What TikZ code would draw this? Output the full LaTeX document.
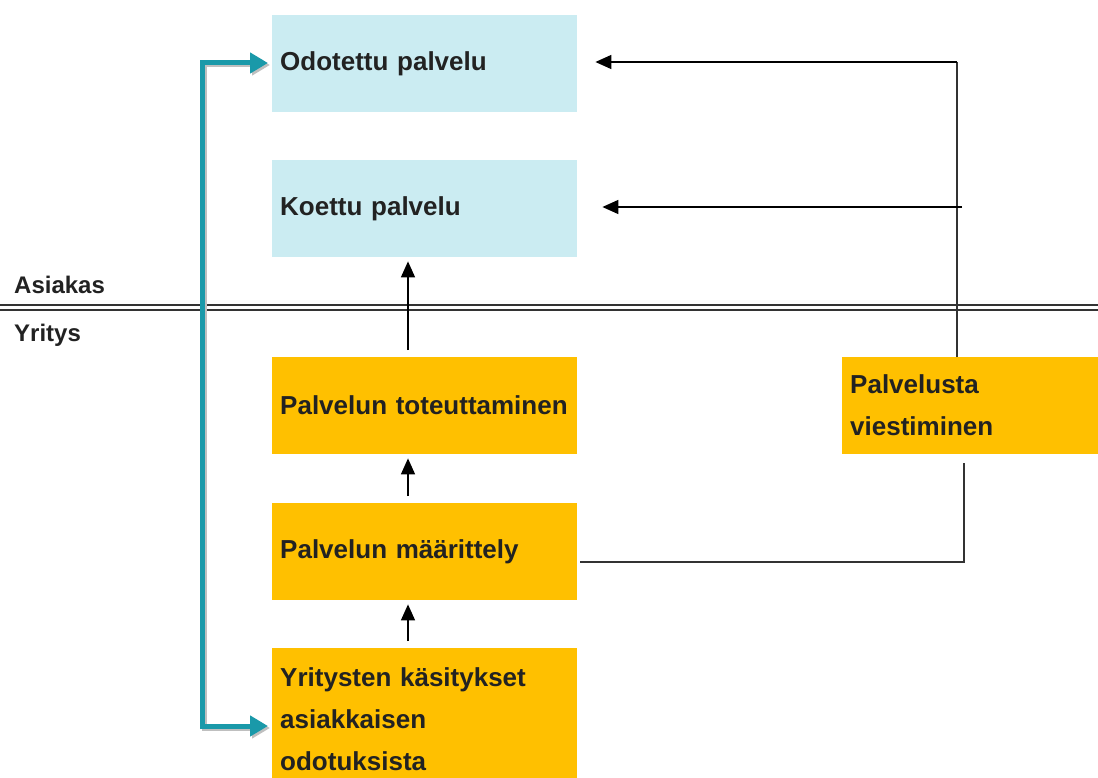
\documentclass[tikz,border=0pt]{standalone}
\usepackage{fontspec}
\setmainfont{Liberation Sans}
\usetikzlibrary{arrows.meta}
\definecolor{custblue}{HTML}{CBECF2}
\definecolor{firmorange}{HTML}{FFC000}
\definecolor{linkteal}{HTML}{1A99A9}
\definecolor{ink}{HTML}{222222}
\begin{document}
\begin{tikzpicture}[x=1pt,y=-1pt,
  box/.style={draw=none, anchor=north west, minimum width=305pt, inner xsep=8pt,
    text width=289pt, align=left, font=\fontsize{26}{42}\selectfont\bfseries,
    text=ink},
  custbox/.style={box, fill=custblue, minimum height=97pt},
  firmbox/.style={box, fill=firmorange, minimum height=97pt},
  flow/.style={draw=black, line width=1.5pt, -{Triangle[length=16pt,width=14pt]}},
  plain/.style={draw=black!80, line width=1.5pt},
  loop/.style={draw=linkteal, line width=5pt},
  lane/.style={font=\fontsize{24}{28}\selectfont\bfseries, text=ink, anchor=west, inner sep=0pt}
]
\useasboundingbox (0,0) rectangle (1098,778);
\clip (0,0) rectangle (1098,778);

% customer side
\node[custbox] (odot) at (272,15) {Odotettu palvelu};
\node[custbox] (koettu) at (272,160) {Koettu palvelu};

% company side
\node[firmbox] (tot) at (272,357) {Palvelun toteuttaminen};
\node[firmbox] (maar) at (272,503) {Palvelun määrittely};
\node[firmbox, minimum height=142pt] (kas) at (272,648) {Yritysten käsitykset\\asiakkaisen\\odotuksista};
\node[box, fill=firmorange, minimum height=97pt, minimum width=256pt, text width=240pt] (viest) at (842,357) {Palvelusta\\viestiminen};

% lane divider
\node[lane] (asiakas) at (14,285) {Asiakas};
\node[lane] (yritys) at (14,335) {Yritys};
\draw[draw=black!80, line width=1.4pt] (0,305) -- (1098,305);
\draw[draw=black!80, line width=1.4pt] (0,310) -- (1098,310);

% vertical chain
\draw[flow, shorten <=7pt, shorten >=4pt] (tot.north -| 408,0) -- (koettu.south -| 408,0);
\draw[flow, shorten <=7pt, shorten >=4pt] (maar.north -| 408,0) -- (tot.south -| 408,0);
\draw[flow, shorten <=7pt, shorten >=4pt] (kas.north -| 408,0) -- (maar.south -| 408,0);

% communication feedback
\coordinate (up1) at (957,62);
\coordinate (mid1) at (962,207);
\coordinate (low1) at (964,463);
\coordinate (low2) at (964,562);
\draw[plain, line width=1.4pt] (viest.north -| up1) -- (up1);
\draw[flow, shorten >=18pt] (up1) -- (up1 -| odot.east);
\draw[flow, shorten >=25pt] (mid1) -- (mid1 -| koettu.east);
\draw[plain] ([xshift=3pt]maar.east |- low2) -- (low2) -- (low1);

% expectation loop
\coordinate (tl) at (202,63);
\coordinate (bl) at (202,726);
\draw[draw=black!25, line width=5pt, {Triangle[length=18pt,width=20pt]}-{Triangle[length=18pt,width=20pt]}, shorten >=4pt, shorten <=4pt, transform canvas={shift={(2pt,-2pt)}}]
  (tl -| odot.west) -- (tl) -- (bl) -- (bl -| kas.west);
\draw[loop, {Triangle[length=18pt,width=20pt]}-{Triangle[length=18pt,width=20pt]}, shorten >=4pt, shorten <=4pt, line join=miter]
  (tl -| odot.west) -- (tl) -- (bl) -- (bl -| kas.west);
\end{tikzpicture}
\end{document}
